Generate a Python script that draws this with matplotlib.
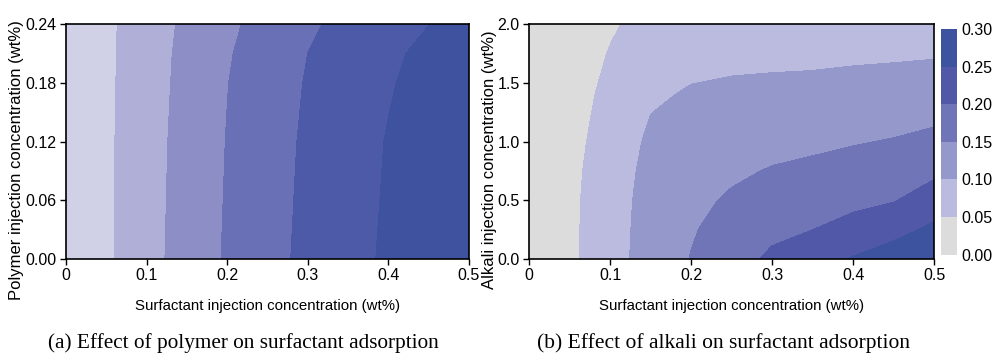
import matplotlib
matplotlib.use("Agg")
import matplotlib.pyplot as plt
from matplotlib.colors import ListedColormap, BoundaryNorm

plt.rcParams['font.family'] = ['Liberation Sans', 'DejaVu Sans']

# contour levels (surfactant adsorption)
levels = [0.0, 0.05, 0.10, 0.15, 0.20, 0.25, 0.30]

# (a) polymer vs surfactant
surf_a = [0.0, 0.05, 0.10, 0.15, 0.20, 0.25, 0.30, 0.35, 0.40, 0.45, 0.50]
poly_a = [0.0, 0.12, 0.18, 0.21, 0.24]
ads_a = [
    [0.002, 0.0417, 0.0828, 0.1207, 0.1553, 0.1847, 0.2113, 0.2349, 0.2569, 0.2762, 0.2954],
    [0.002, 0.0417, 0.0808, 0.1174, 0.1517, 0.1805, 0.2073, 0.2303, 0.2525, 0.2704, 0.2882],
    [0.002, 0.0410, 0.0787, 0.1145, 0.1490, 0.1768, 0.2034, 0.2250, 0.2466, 0.2640, 0.2807],
    [0.002, 0.0410, 0.0779, 0.1127, 0.1460, 0.1734, 0.2001, 0.2212, 0.2424, 0.2600, 0.2756],
    [0.002, 0.0403, 0.0760, 0.1094, 0.1406, 0.1677, 0.1929, 0.2131, 0.2314, 0.2496, 0.2623],
]

# (b) alkali vs surfactant
surf_b = [0.0, 0.05, 0.10, 0.15, 0.20, 0.25, 0.30, 0.35, 0.40, 0.45, 0.50]
alk_b = [0.0, 0.25, 0.5, 0.75, 1.0, 1.25, 1.4, 1.5, 1.75, 2.0]
ads_b = [
    [0.002, 0.0397, 0.0834, 0.1180, 0.1518, 0.1815, 0.2086, 0.2311, 0.2531, 0.2723, 0.2915],
    [0.002, 0.0389, 0.0833, 0.1160, 0.1460, 0.1686, 0.1891, 0.1996, 0.2162, 0.2355, 0.2590],
    [0.002, 0.0376, 0.0839, 0.1130, 0.1390, 0.1557, 0.1710, 0.1796, 0.1883, 0.1973, 0.2235],
    [0.002, 0.0349, 0.0822, 0.1100, 0.1320, 0.1426, 0.1529, 0.1596, 0.1675, 0.1750, 0.1900],
    [0.002, 0.0296, 0.0787, 0.1060, 0.1240, 0.1293, 0.1365, 0.1409, 0.1469, 0.1527, 0.1622],
    [0.002, 0.0290, 0.0679, 0.0995, 0.1080, 0.1160, 0.1205, 0.1234, 0.1273, 0.1317, 0.1375],
    [0.002, 0.0285, 0.0630, 0.0940, 0.1040, 0.1080, 0.1110, 0.1130, 0.1160, 0.1195, 0.1250],
    [0.002, 0.0280, 0.0594, 0.0900, 0.0995, 0.1027, 0.1045, 0.1059, 0.1078, 0.1108, 0.1152],
    [0.002, 0.0270, 0.0523, 0.0780, 0.0880, 0.0911, 0.0916, 0.0920, 0.0944, 0.0951, 0.0964],
    [0.002, 0.0250, 0.0450, 0.0650, 0.0770, 0.0790, 0.0810, 0.0830, 0.0850, 0.0850, 0.0850],
]

colors_a = ['#d0d1e6', '#afafd8', '#8e8ec6', '#6a70b6', '#4d5aa8', '#3f52a0']
colors_b = ['#dcdcdc', '#babbdf', '#9598ca', '#7075b8', '#5158a8', '#3e53a0']

fig = plt.figure(figsize=(9.93, 3.64), dpi=100)
ax1 = fig.add_axes([0.0665, 0.2893, 0.4058, 0.6439])
ax2 = fig.add_axes([0.5330, 0.2893, 0.4076, 0.6439])
cax = fig.add_axes([0.9477, 0.3008, 0.0158, 0.6187])

ax1.contourf(surf_a, poly_a, ads_a, levels=levels, colors=colors_a)
ax2.contourf(surf_b, alk_b, ads_b, levels=levels, colors=colors_b)

ax1.set_xlim(0, 0.5)
ax1.set_ylim(0, 0.24)
ax1.set_xticks([0, 0.1, 0.2, 0.3, 0.4, 0.5])
ax1.set_xticklabels(['0', '0.1', '0.2', '0.3', '0.4', '0.5'])
ax1.set_yticks([0.0, 0.06, 0.12, 0.18, 0.24])
ax1.set_yticklabels(['0.00', '0.06', '0.12', '0.18', '0.24'])
ax1.set_ylabel('Polymer injection concentration (wt%)', fontsize=12)
ax1.yaxis.set_label_coords(-0.104, 0.421)

ax2.set_xlim(0, 0.5)
ax2.set_ylim(0, 2.0)
ax2.set_xticks([0, 0.1, 0.2, 0.3, 0.4, 0.5])
ax2.set_xticklabels(['0', '0.1', '0.2', '0.3', '0.4', '0.5'])
ax2.set_yticks([0.0, 0.5, 1.0, 1.5, 2.0])
ax2.set_yticklabels(['0.0', '0.5', '1.0', '1.5', '2.0'])
ax2.set_ylabel('Alkali injection concentration (wt%)', fontsize=12)
ax2.yaxis.set_label_coords(-0.079, 0.421)

for ax in (ax1, ax2):
    ax.tick_params(direction='out', length=4, width=1, pad=3, labelsize=11.5)
    for s in ax.spines.values():
        s.set_linewidth(1.2)
    ax.set_xlabel('Surfactant injection concentration (wt%)', fontsize=10.8,
                  labelpad=11)

cmap = ListedColormap(colors_b)
norm = BoundaryNorm(levels, cmap.N)
cb = fig.colorbar(plt.cm.ScalarMappable(norm=norm, cmap=cmap), cax=cax, ticks=levels)
cb.ax.set_yticklabels(['%.2f' % v for v in levels])
cb.outline.set_visible(False)
cb.ax.tick_params(length=0, labelsize=11.5, pad=3)

fig.text(0.245, 0.058, '(a) Effect of polymer on surfactant adsorption',
         family='Liberation Serif', fontsize=15.3, ha='center', va='center')
fig.text(0.729, 0.058, '(b) Effect of alkali on surfactant adsorption',
         family='Liberation Serif', fontsize=15.5, ha='center', va='center')

fig.savefig('out.png', dpi=100)
